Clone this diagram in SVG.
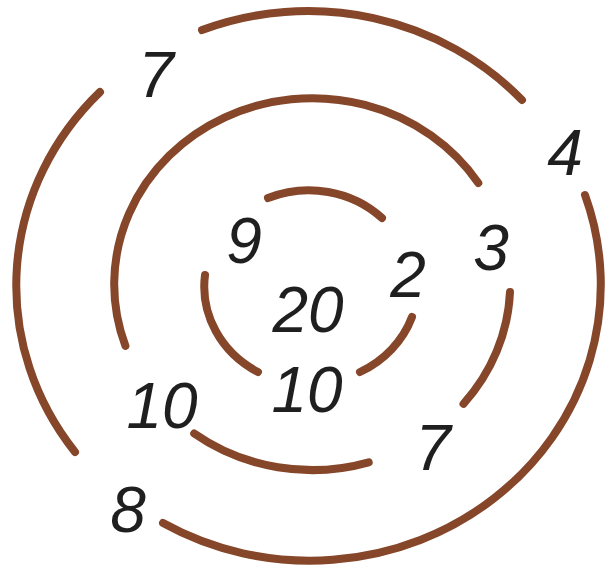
<svg xmlns="http://www.w3.org/2000/svg" width="610" height="570" viewBox="0 0 610 570">
<style>
.arc{fill:none;stroke:#86462a;stroke-width:8;stroke-linecap:round}
.num{font-family:"Liberation Sans",Arial,sans-serif;font-style:italic;font-size:64px;fill:#1f1f1f;text-anchor:middle}
</style>
<rect width="610" height="570" fill="#ffffff"/>
<g id="rings">
<g id="outer">
<path class="arc" d="M202,30 A291,276 0 0 1 522,100"/>
<path class="arc" d="M585,195 A291,276 0 0 1 163,523"/>
<path class="arc" d="M75,452 A291,276 0 0 1 100,92"/>
</g>
<g id="middle">
<path class="arc" d="M125.4,345.9 A198,186 0 0 1 478.3,183"/>
<path class="arc" d="M510,292 A198,186 0 0 1 463.5,403.8"/>
<path class="arc" d="M368.7,462.3 A198,186 0 0 1 194.2,433.5"/>
</g>
<g id="inner">
<path class="arc" d="M268,198 A105,98 0 0 1 382,218"/>
<path class="arc" d="M412,317 A105,98 0 0 1 360,372"/>
<path class="arc" d="M258,372 A105,98 0 0 1 205,275"/>
</g>
</g>
<g id="labels">
<text class="num" x="156" y="97">7</text>
<text class="num" x="565" y="175">4</text>
<text class="num" x="491" y="270">3</text>
<text class="num" x="408" y="297">2</text>
<text class="num" x="244" y="263">9</text>
<text class="num" x="308" y="332">20</text>
<text class="num" x="307" y="412">10</text>
<text class="num" x="162" y="428">10</text>
<text class="num" x="128" y="532">8</text>
<text class="num" x="433" y="470">7</text>
</g>
</svg>
